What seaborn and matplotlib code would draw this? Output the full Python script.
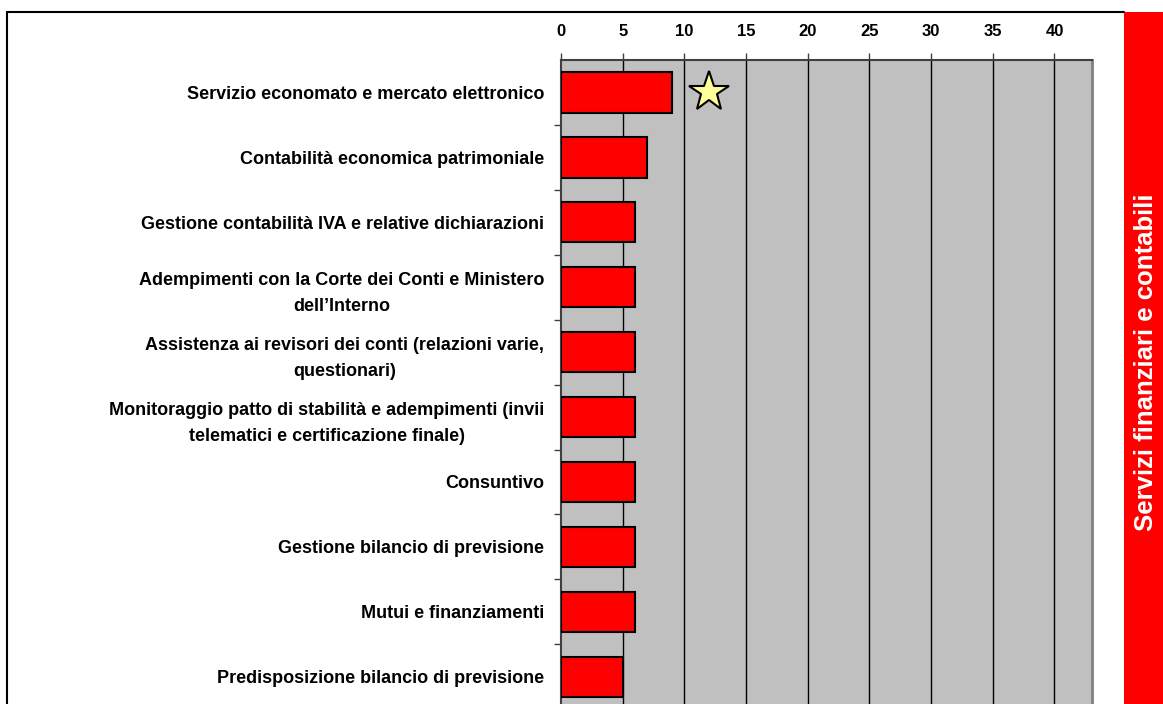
import pandas as pd
import seaborn as sns
import matplotlib.pyplot as plt
from matplotlib.lines import Line2D
from matplotlib.patches import Rectangle

# data
attivita = [
    "Servizio economato e mercato elettronico",
    "Contabilità economica patrimoniale",
    "Gestione contabilità IVA e relative dichiarazioni",
    "Adempimenti con la Corte dei Conti e Ministero\ndell\u2019Interno",
    "Assistenza ai revisori dei conti (relazioni varie,\nquestionari)",
    "Monitoraggio patto di stabilità e adempimenti (invii\ntelematici e certificazione finale)",
    "Consuntivo",
    "Gestione bilancio di previsione",
    "Mutui e finanziamenti",
    "Predisposizione bilancio di previsione",
]
valori = [9, 7, 6, 6, 6, 6, 6, 6, 6, 5]
stella_x = [12]
stella_attivita = ["Servizio economato e mercato elettronico"]
x_ticks = [0, 5, 10, 15, 20, 25, 30, 35, 40]
settore = "Servizi finanziari e contabili"

df = pd.DataFrame({"attivita": attivita, "valore": valori})

sns.set_style("white")
plt.rcParams["font.family"] = ["Liberation Sans", "DejaVu Sans"]
plt.rcParams["text.color"] = "black"
plt.rcParams["xtick.color"] = "black"
plt.rcParams["ytick.color"] = "black"

fig = plt.figure(figsize=(11.63, 7.04), dpi=100)
ax = fig.add_axes([561 / 1163, 0.0, 530.5 / 1163, 1 - 60 / 704])
ax.set_facecolor("#c0c0c0")

sns.barplot(data=df, y="attivita", x="valore", orient="h", color="red",
            saturation=1, edgecolor="black", linewidth=1.5, width=0.62, ax=ax, zorder=3)

# star marker next to the first bar
ax.plot(stella_x, [attivita.index(s) for s in stella_attivita], marker="*", markersize=30,
        markerfacecolor="#ffff99", markeredgecolor="black", markeredgewidth=1.5,
        linestyle="none", zorder=4)

ax.set_xlim(0, 43)
ax.set_ylim(9.42, -0.5)
ax.set_xlabel("")
ax.set_ylabel("")

# top axis with vertical gridlines
ax.xaxis.tick_top()
ax.set_xticks(x_ticks)
ax.set_xticklabels([str(t) for t in x_ticks], fontsize=12, fontweight="bold")
ax.tick_params(axis="x", direction="out", length=5, width=1, color="#404040", pad=10)
for t in x_ticks[1:]:
    ax.axvline(t, color="black", linewidth=1, zorder=1)

# category labels, tick marks between categories
ax.set_yticks(range(len(attivita)))
ax.set_yticklabels(attivita, fontsize=13, fontweight="bold")
for lab in ax.get_yticklabels():
    lab.set_multialignment("center")
    lab.set_linespacing(1.65)
ax.tick_params(axis="y", which="major", left=False, length=0, pad=12)
ax.set_yticks([i + 0.5 for i in range(len(attivita) - 1)], minor=True)
ax.tick_params(axis="y", which="minor", left=True, direction="out", length=5, width=1,
               color="#404040")

for s in ["top", "left"]:
    ax.spines[s].set_color("#404040")
    ax.spines[s].set_linewidth(1.5)
ax.spines["right"].set_color("#808080")
ax.spines["right"].set_linewidth(2)
ax.spines["bottom"].set_visible(False)

# outer frame and red side band
fig.add_artist(Line2D([7 / 1163, 1124 / 1163], [1 - 12 / 704, 1 - 12 / 704],
                      color="black", linewidth=1.5))
fig.add_artist(Line2D([7 / 1163, 7 / 1163], [0, 1 - 12 / 704], color="black", linewidth=1.5))
fig.add_artist(Rectangle((1124 / 1163, 0), 39 / 1163, 1 - 12 / 704,
                         transform=fig.transFigure, facecolor="red", edgecolor="none"))
fig.text(1146 / 1163, 1 - 362 / 704, settore, rotation=90, color="white",
         fontsize=18.5, fontweight="bold", ha="center", va="center")

fig.savefig("out.png", dpi=100)
